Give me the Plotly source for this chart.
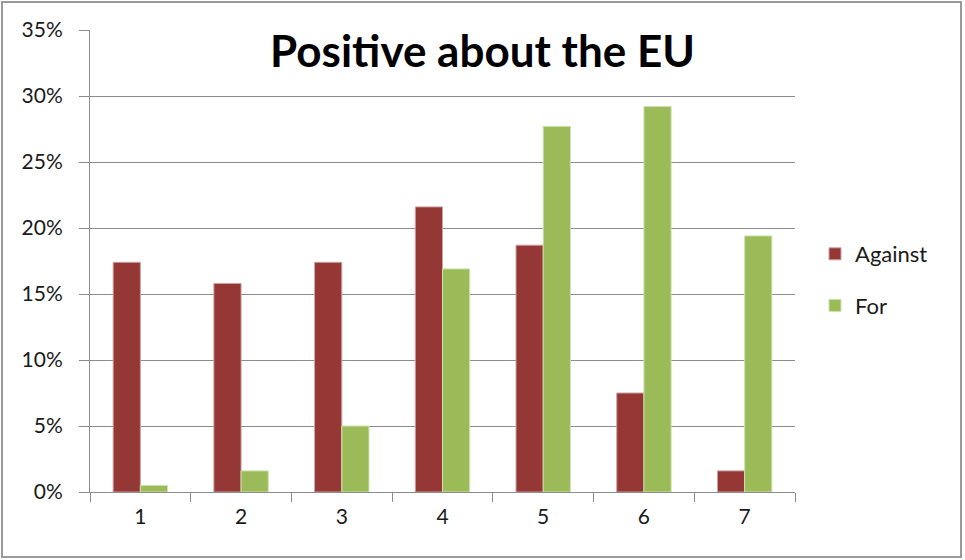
import plotly.graph_objects as go

categories = ["1", "2", "3", "4", "5", "6", "7"]
against = [0.174, 0.158, 0.174, 0.216, 0.187, 0.075, 0.016]
for_vals = [0.005, 0.016, 0.050, 0.169, 0.277, 0.292, 0.194]
y_ticks = [0, 0.05, 0.10, 0.15, 0.20, 0.25, 0.30, 0.35]
y_tick_labels = ["0%", "5%", "10%", "15%", "20%", "25%", "30%", "35%"]

W, H = 965, 560
ml, mr, mt, mb = 90, 170, 30, 68

fig = go.Figure()
fig.add_trace(go.Bar(x=categories, y=against, name="Against", legendgroup="a",
                     marker=dict(color="#953735", line=dict(color="#c9a3a2", width=1))))
fig.add_trace(go.Bar(x=categories, y=for_vals, name="For", legendgroup="f",
                     marker=dict(color="#9BBB59", line=dict(color="#cfe0b0", width=1))))

fig.update_layout(
    width=W, height=H,
    margin=dict(l=ml, r=mr, t=mt, b=mb),
    paper_bgcolor="white", plot_bgcolor="white",
    barmode="group", bargap=0.46, bargroupgap=0,
    font=dict(family="Lato, Open Sans, sans-serif", size=21, color="#1a1a1a"),
    title=dict(text="<b>Positive about the EU</b>", xref="container", x=0.5, xanchor="center",
               yref="container", y=1 - 52 / H, yanchor="middle",
               font=dict(family="Lato, Open Sans, sans-serif", size=44, color="black")),
    legend=dict(x=(815 - ml) / (W - ml - mr), xref="paper", xanchor="left",
                y=(492 - 280) / (H - mt - mb), yanchor="middle",
                tracegroupgap=20, font=dict(size=22, color="#1a1a1a"), itemwidth=30,
                bgcolor="rgba(0,0,0,0)"),
    showlegend=True,
)
fig.update_yaxes(range=[0, 0.35], tickvals=y_ticks, ticktext=y_tick_labels,
                 showgrid=True, gridcolor="#8c8c8c", gridwidth=1,
                 showline=True, linecolor="#8c8c8c", linewidth=1,
                 ticks="outside", ticklen=10, tickcolor="#8c8c8c",
                 ticklabelstandoff=12, zeroline=False,
                 tickfont=dict(size=21, color="#1a1a1a"))
fig.update_xaxes(type="category", showgrid=False, showline=True, linecolor="#8c8c8c", linewidth=1,
                 ticks="outside", ticklen=9, tickcolor="#8c8c8c", tickson="boundaries",
                 ticklabelstandoff=6, tickfont=dict(size=21, color="#1a1a1a"))

# outer frame
x0 = -ml / (W - ml - mr) + 2 / (W - ml - mr)
x1 = 1 + (mr - 4) / (W - ml - mr)
ph = H - mt - mb
y0 = -(mb - 3) / ph
y1 = 1 + (mt - 2) / ph
fig.add_shape(type="rect", xref="paper", yref="paper", x0=x0, x1=x1, y0=y0, y1=y1,
              line=dict(color="#9a9a9a", width=2), fillcolor="rgba(0,0,0,0)", layer="below")

fig.write_html("out.html")
